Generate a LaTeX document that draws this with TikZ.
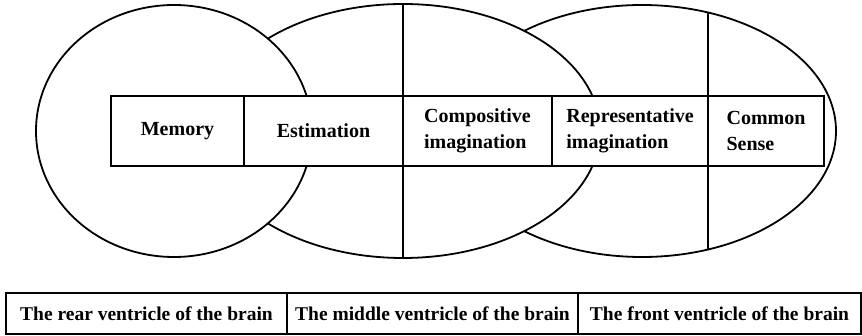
\documentclass[tikz,border=0pt]{standalone}
\usepackage{fontspec}
\setmainfont{Liberation Serif}
\usepackage{tikz}
\usetikzlibrary{positioning}

\begin{document}
\begin{tikzpicture}[x=1pt, y=-1pt, line width=1.8pt,
    cellbox/.style={draw, fill=white, inner sep=0pt, outer sep=0pt,
      minimum height=70pt, align=left,
      font=\bfseries\fontsize{20}{26}\selectfont},
    ventbox/.style={draw, inner sep=0pt, outer sep=0pt, minimum height=41pt,
      font=\bfseries\fontsize{19.5}{24}\selectfont}]
    \useasboundingbox (0,0) rectangle (862,336);
    % --- the three ventricles: front, middle, rear ---
    \draw[fill=white] (642,131) ellipse [x radius=194, y radius=126];
    \draw[fill=white] (403,131) ellipse [x radius=197, y radius=127];
    \draw[fill=white] (174,131) ellipse [x radius=138, y radius=126];
    % --- row of faculties ---
    \node[cellbox, minimum width=133pt] (memory) at (177.5,131) {Memory};
    \node[cellbox, minimum width=159pt, right=0pt of memory] (estim) {Estimation};
    \node[cellbox, minimum width=149pt, right=0pt of estim] (compos) {Compositive\\imagination};
    \node[cellbox, minimum width=156pt, right=0pt of compos] (repres) {Representative\\imagination};
    \node[cellbox, minimum width=116pt, right=0pt of repres] (common) {Common\\Sense};
    % --- dividers of the ventricles ---
    \coordinate (midtop) at (403,4);
    \coordinate (midbot) at (403,258);
    \coordinate (fronttop) at (708,13);
    \coordinate (frontbot) at (708,249);
    \draw (compos.north west) -- (midtop);
    \draw (compos.south west) -- (midbot);
    \draw (common.north west) -- (fronttop);
    \draw (common.south west) -- (frontbot);
    % --- legend row ---
    \node[ventbox, minimum width=281pt] (rear) at (146.5,313.5) {The rear ventricle of the brain};
    \node[ventbox, minimum width=291pt, right=0pt of rear] (middle) {The middle ventricle of the brain};
    \node[ventbox, minimum width=283pt, right=0pt of middle] (front) {The front ventricle of the brain};
\end{tikzpicture}
\end{document}
